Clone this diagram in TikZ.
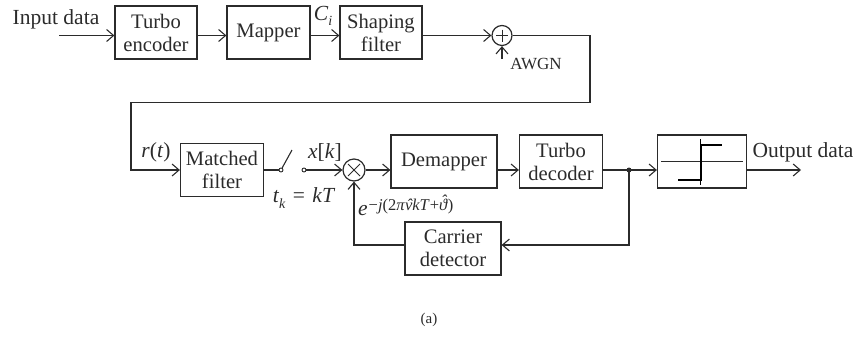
\documentclass[tikz,border=0pt]{standalone}
\usepackage{fontspec}
\setmainfont{Liberation Serif}
\usetikzlibrary{arrows.meta}
\definecolor{ink}{HTML}{2B2B2B}
\tikzset{
  x=1pt,y=-1pt,
  every node/.style={text=ink,font=\fontsize{21.5}{23}\selectfont,inner sep=0pt},
  wire/.style={draw=ink,line width=1.1pt},
  arr/.style={wire,-{Straight Barb[length=7pt,width=12pt,line width=1.1pt]}},
  blk/.style={draw=ink,line width=1.2pt,rectangle,align=center,font=\fontsize{20.6}{23}\selectfont},
  sumc/.style={draw=ink,line width=1.2pt,circle,minimum size=#1},
  dot/.style={circle,fill=ink,minimum size=5pt},
  hollow/.style={circle,draw=ink,fill=white,line width=.9pt,minimum size=4pt},
  lab/.style={anchor=center}
}
\newcommand{\hatnu}{\rlap{\kern0.1em\raisebox{-0.02em}{\textit{ˆ}}}\textit{ν}}
\newcommand{\hatth}{\rlap{\kern0.12em\raisebox{0.2em}{\textit{ˆ}}}\textit{ϑ}}
\begin{document}
\begin{tikzpicture}
\useasboundingbox (0,0) rectangle (858,343);
% boxes
\node[blk,minimum width=82pt,minimum height=53pt] (te) at (156,32.5) {Turbo\\encoder};
\node[blk,minimum width=83pt,minimum height=53pt] (map) at (268.5,32.5) {Mapper};
\node[blk,minimum width=82pt,minimum height=53pt] (sf) at (381,32.5) {Shaping\\filter};
\node[blk,minimum width=83pt,minimum height=53pt] (mf) at (222,170) {Matched\\filter};
\node[blk,minimum width=106pt,minimum height=53pt] (dm) at (444,161.5) {Demapper};
\node[blk,minimum width=83pt,minimum height=53pt] (td) at (561,161.5) {Turbo\\decoder};
\node[blk,minimum width=89pt,minimum height=53pt] (sg) at (702,161.5) {};
\node[blk,minimum width=96pt,minimum height=53pt] (cd) at (453,248.5) {Carrier\\detector};
% summers
\node[sumc=20pt] (add) at (502,35.5) {};
\draw[wire,line width=.9pt] (add.center) ++(-6,0) -- ++(12,0) (add.center) ++(0,-6) -- ++(0,12);
\node[sumc=22pt] (mul) at (354,170) {};
\draw[wire,line width=.9pt] (mul.center) ++(-6,-6) -- ++(12,12) (mul.center) ++(6,-6) -- ++(-12,12);
% helpers
\coordinate (in) at (59,35.5);
\coordinate (awgn) at (502,59);
\coordinate (r1) at (590,35.5);
\coordinate (r2) at (590,102.5);
\coordinate (l2) at (131,102.5);
\coordinate (l3) at (131,170);
\coordinate (out) at (801,170);
\coordinate (cr) at (629,245);
\coordinate (j) at (629,170);
\node[hollow] (s1) at (281,170) {};
\node[hollow] (s2) at (304,170) {};
\coordinate (sw) at (292,150);
% connectors
\draw[arr] (in) -- (te.west |- in);
\draw[arr] (te.east |- in) -- (map.west |- in);
\draw[arr] (map.east |- in) -- (sf.west |- in);
\draw[arr] (sf.east |- in) -- (add.west);
\draw[arr] (awgn) -- (add.south);
\draw[arr] (add.east) -- (r1) -- (r2) -- (l2) -- (l3) -- (mf.west);
\draw[wire] (mf.east) -- (s1);
\draw[wire] (s1) -- (sw);
\draw[arr] (s2) -- (mul.west);
\draw[arr] (mul.east) -- (dm.west |- mul);
\draw[arr] (dm.east |- mul) -- (td.west |- mul);
\draw[wire] (td.east |- mul) -- (j);
\draw[arr] (j) -- (sg.west |- j);
\draw[arr] (sg.east |- j) -- (out);
\draw[arr] (j) -- (cr) -- (cd.east |- cr);
\coordinate (fb) at (mul.south |- cr);
\draw[arr] (cd.west |- cr) -- (fb) -- (mul.south);
\node[dot] (jd) at (j) {};
% limiter symbol
\draw[draw=ink,line width=1pt] (661,161.5) -- (743,161.5);
\draw[draw=black,line width=1pt] (700,139) -- (700,185);
\draw[draw=black,line width=2pt] (678,179.5) -- (700.5,179.5) -- (700.5,144.5) -- (722,144.5);
% labels
\node[lab] (t1) at (56,19) {Input data};
\node[lab] (t2) at (323,16) {\textit{C}\raisebox{-0.25em}{\fontsize{14}{14}\selectfont\textit{i}}};
\node[lab,font=\fontsize{17}{17}\selectfont] (t3) at (536,64) {AWGN};
\node[lab] (t4) at (156,152) {\textit{r}(\textit{t})};
\node[lab] (t5) at (325,152) {\textit{x}[\textit{k}]};
\node[lab] (t6) at (304,198) {\textit{t}\raisebox{-0.25em}{\fontsize{14}{14}\selectfont\textit{k}}\kern2pt\ =\ \kern2pt\textit{kT}};
\node[anchor=base west] (t7) at (358,215) {\textit{e}\kern1pt\raisebox{5pt}{\fontsize{16.5}{17}\selectfont −\textit{j}(2\textit{π}\hatnu\textit{kT}+\hatth)}};
\node[lab] (t8) at (803,152) {Output data};
\node[lab,font=\fontsize{15}{15}\selectfont] (t9) at (429,320) {(a)};
\end{tikzpicture}
\end{document}
